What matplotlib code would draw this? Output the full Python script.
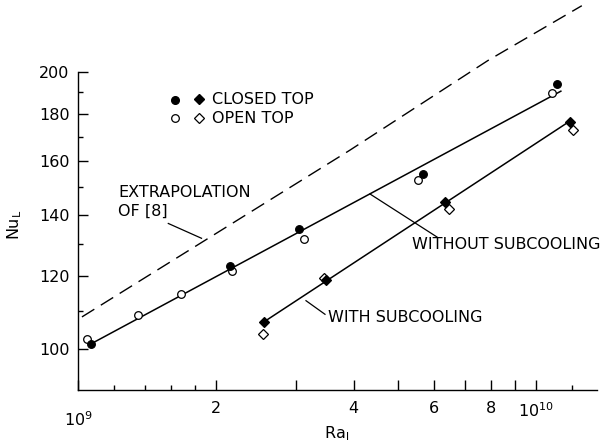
import matplotlib
matplotlib.use('Agg')
import matplotlib.pyplot as plt
from matplotlib.ticker import FixedLocator, FixedFormatter, NullFormatter

# ---- data ----
ra_closed_circ = [1.066e9, 2.15e9, 3.04e9, 5.68e9, 11.13e9]
nu_closed_circ = [101.3, 123.0, 135.2, 155.1, 194.2]
ra_open_circ = [1.048e9, 1.35e9, 1.68e9, 2.17e9, 3.12e9, 5.53e9, 10.85e9]
nu_open_circ = [102.5, 108.9, 114.9, 121.6, 131.8, 152.8, 189.7]
ra_closed_diam = [2.55e9, 3.48e9, 6.33e9, 11.87e9]
nu_closed_diam = [107.1, 119.0, 144.5, 176.4]
ra_open_diam = [2.54e9, 3.44e9, 6.47e9, 12.07e9]
nu_open_diam = [103.8, 119.6, 142.1, 172.8]

ra_without = [1.066e9, 11.34e9]
nu_without = [101.3, 190.6]
ra_with = [2.55e9, 11.77e9]
nu_with = [107.1, 176.4]
ra_extrap = [1.02e9, 3.92e9, 7.86e9, 12.6e9]
nu_extrap = [108.4, 164.4, 205.8, 236.0]

y_major = [100, 120, 140, 160, 180, 200]
y_minor = [110, 130, 150, 170, 190]
x_major = [2e9, 3e9, 4e9, 5e9, 6e9, 7e9, 8e9, 9e9, 1e10]
x_major_labels = ['2', '', '4', '', '6', '', '8', '', r'$\mathregular{10^{10}}$']
x_minor = [1.2e9, 1.4e9, 1.6e9, 1.8e9, 1.2e10]

plt.rcParams['font.family'] = ['DejaVu Sans']
plt.rcParams['font.size'] = 11.5

fig = plt.figure(figsize=(6.02, 4.42), dpi=100)
ax = fig.add_axes([78/602, (442-390)/442, 519/602, 390/442])
ax.set_xscale('log')
ax.set_yscale('log')
ax.set_xlim(1e9, 1.36e10)
ax.set_ylim(90.3, 239.4)

for s in ['top', 'right']:
    ax.spines[s].set_visible(False)
ax.spines['left'].set_bounds(90.3, 200)
for s in ['left', 'bottom']:
    ax.spines[s].set_linewidth(1.0)

lw = 1.1
ax.plot(ra_without, nu_without, color='black', lw=lw, zorder=2)
ax.plot(ra_with, nu_with, color='black', lw=lw, zorder=2)
ax.plot(ra_extrap, nu_extrap, color='black', lw=1.0, dashes=(10.5, 5.5), zorder=2,
        clip_on=False)

ms_c = 5.5
ms_d = 4.8
ax.plot(ra_open_circ, nu_open_circ, 'o', ms=ms_c, mfc='white', mec='black', mew=0.9, zorder=3)
ax.plot(ra_closed_circ, nu_closed_circ, 'o', ms=ms_c, mfc='black', mec='black', mew=0.9, zorder=4)
ax.plot(ra_open_diam, nu_open_diam, 'D', ms=ms_d, mfc='white', mec='black', mew=0.9, zorder=3)
ax.plot(ra_closed_diam, nu_closed_diam, 'D', ms=ms_d, mfc='black', mec='black', mew=0.9, zorder=4)

# ticks
ax.yaxis.set_major_locator(FixedLocator(y_major))
ax.yaxis.set_major_formatter(FixedFormatter([str(v) for v in y_major]))
ax.yaxis.set_minor_locator(FixedLocator(y_minor))
ax.yaxis.set_minor_formatter(NullFormatter())

ax.xaxis.set_major_locator(FixedLocator([1e9] + x_major))
ax.xaxis.set_major_formatter(FixedFormatter([''] + x_major_labels))
ax.xaxis.set_minor_locator(FixedLocator(x_minor))
ax.xaxis.set_minor_formatter(NullFormatter())

ax.tick_params(which='major', direction='in', length=7, width=1.0, pad=8)
ax.tick_params(which='minor', direction='in', length=3.5, width=1.0)
ax.tick_params(axis='y', which='major', pad=6)

# 10^9 label sits a little lower in the reference
ax.annotate(r'$\mathregular{10^{9}}$', xy=(1e9, 0), xycoords=('data', 'axes fraction'),
            xytext=(0, -30), textcoords='offset pixels', ha='center', va='center')

ax.set_xlabel(r'Ra$_\mathregular{l}$')
ax.xaxis.set_label_coords(0.499, -0.088)
ax.set_ylabel(r'Nu$_\mathregular{L}$')
ax.yaxis.set_label_coords(-0.104, 0.423)

# legend-like annotations
T = ax.transAxes
ax.plot([0.1869], [0.7436], 'o', ms=ms_c, mfc='black', mec='black', transform=T, clip_on=False)
ax.plot([0.2337], [0.7454], 'D', ms=ms_d, mfc='black', mec='black', transform=T, clip_on=False)
ax.plot([0.1869], [0.6967], 'o', ms=ms_c, mfc='white', mec='black', mew=0.9, transform=T, clip_on=False)
ax.plot([0.2337], [0.6967], 'D', ms=ms_d, mfc='white', mec='black', mew=0.9, transform=T, clip_on=False)
ax.text(0.258, 0.745, 'CLOSED TOP', transform=T, va='center', ha='left')
ax.text(0.258, 0.6967, 'OPEN TOP', transform=T, va='center', ha='left')

ax.text(0.0776, 0.506, 'EXTRAPOLATION', transform=T, va='center', ha='left')
ax.text(0.0776, 0.459, 'OF [8]', transform=T, va='center', ha='left')
ax.plot([0.174, 0.238], [0.427, 0.389], color='black', lw=0.9, transform=T)

ax.text(0.6435, 0.3718, 'WITHOUT SUBCOOLING', transform=T, va='center', ha='left')
ax.plot([0.5626, 0.6917], [0.5026, 0.3923], color='black', lw=0.9, transform=T)

ax.text(0.4823, 0.1854, 'WITH SUBCOOLING', transform=T, va='center', ha='left')
ax.plot([0.4393, 0.4759], [0.229, 0.1941], color='black', lw=0.9, transform=T)

fig.savefig('out.png', dpi=100)
